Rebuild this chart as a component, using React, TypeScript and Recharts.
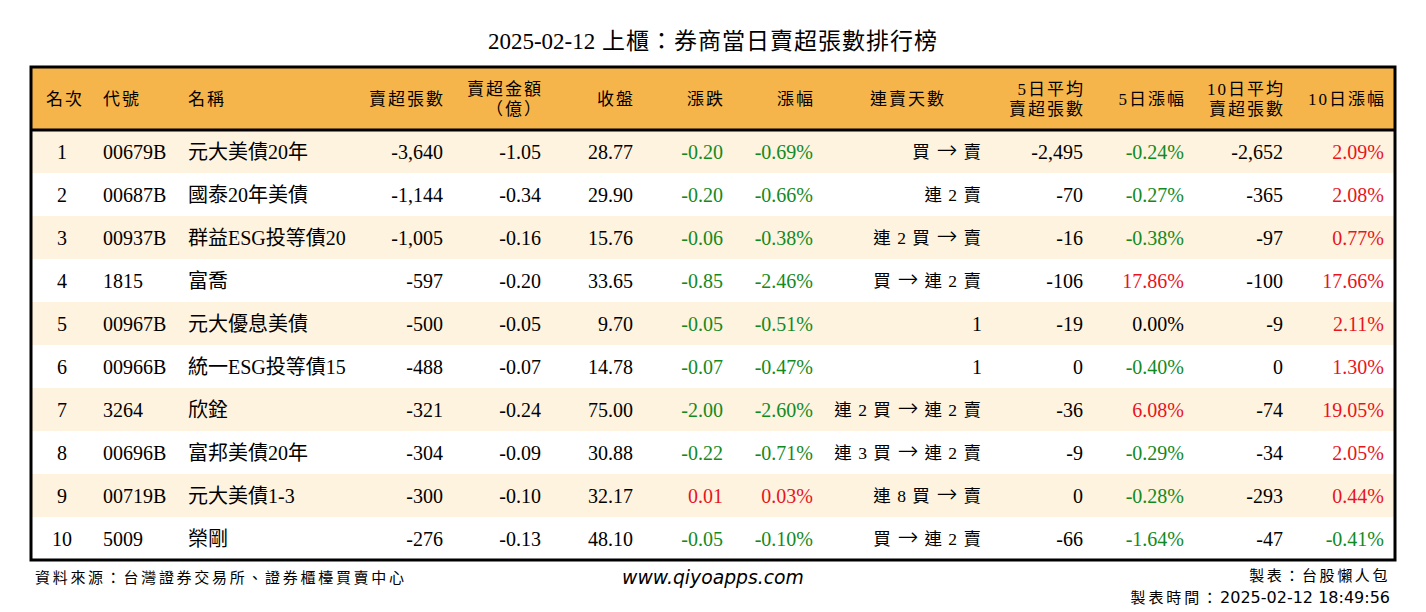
import { ScatterChart, Scatter, XAxis, YAxis, ReferenceArea, ReferenceLine } from "recharts";

const TITLE_DATE = "2025-02-12";
const TITLE_TEXT = "上櫃：券商當日賣超張數排行榜";

const headers = [
  ["名次"],
  ["代號"],
  ["名稱"],
  ["賣超張數"],
  ["賣超金額", "（億）"],
  ["收盤"],
  ["漲跌"],
  ["漲幅"],
  ["連賣天數"],
  ["5日平均", "賣超張數"],
  ["5日漲幅"],
  ["10日平均", "賣超張數"],
  ["10日漲幅"],
];

const ranks = [1, 2, 3, 4, 5, 6, 7, 8, 9, 10];
const codes = ["00679B", "00687B", "00937B", "1815", "00967B", "00966B", "3264", "00696B", "00719B", "5009"];
const names = ["元大美債20年", "國泰20年美債", "群益ESG投等債20", "富喬", "元大優息美債", "統一ESG投等債15", "欣銓", "富邦美債20年", "元大美債1-3", "榮剛"];
const sellVolumes = [-3640, -1144, -1005, -597, -500, -488, -321, -304, -300, -276];
const sellAmounts = [-1.05, -0.34, -0.16, -0.2, -0.05, -0.07, -0.24, -0.09, -0.1, -0.13];
const closes = [28.77, 29.9, 15.76, 33.65, 9.7, 14.78, 75.0, 30.88, 32.17, 48.1];
const changes = [-0.2, -0.2, -0.06, -0.85, -0.05, -0.07, -2.0, -0.22, 0.01, -0.05];
const changePcts = [-0.69, -0.66, -0.38, -2.46, -0.51, -0.47, -2.6, -0.71, 0.03, -0.1];
const streaks = ["買 → 賣", "連 2 賣", "連 2 買 → 賣", "買 → 連 2 賣", "1", "1", "連 2 買 → 連 2 賣", "連 3 買 → 連 2 賣", "連 8 買 → 賣", "買 → 連 2 賣"];
const avg5Volumes = [-2495, -70, -16, -106, -19, 0, -36, -9, 0, -66];
const pct5 = [-0.24, -0.27, -0.38, 17.86, 0.0, -0.4, 6.08, -0.29, -0.28, -1.64];
const avg10Volumes = [-2652, -365, -97, -100, -9, 0, -74, -34, -293, -47];
const pct10 = [2.09, 2.08, 0.77, 17.66, 2.11, 1.3, 19.05, 2.05, 0.44, -0.41];

const WIDTH = 1426;
const HEIGHT = 612;
const TABLE_W = 1364;
const ROW_H = 43;
const HEADER_H = 63;
const HEADER_UNITS = HEADER_H / ROW_H;
const Y_TOP = 0.5 - HEADER_UNITS;

const ORANGE = "#F6B54A";
const CREAM = "#FEF3DF";
const GREEN = "#138A1E";
const RED = "#E8141E";

const SERIF = "'Liberation Serif', 'Noto Sans CJK TC', serif";
const SANS = "'DejaVu Sans', 'Noto Sans CJK TC', sans-serif";

const signColor = (v: number) => (v > 0 ? RED : v < 0 ? GREEN : "#000");
const int = (v: number) => v.toLocaleString("en-US");
const fix = (v: number) => v.toFixed(2);
const pct = (v: number) => v.toFixed(2) + "%";

type Anchor = "start" | "middle" | "end";
// column layout: data anchor, header anchor
const columns: { x: number; anchor: Anchor; hx: number; hanchor: Anchor }[] = [
  { x: 31, anchor: "middle", hx: 34, hanchor: "middle" },
  { x: 72, anchor: "start", hx: 72, hanchor: "start" },
  { x: 157, anchor: "start", hx: 157, hanchor: "start" },
  { x: 412, anchor: "end", hx: 414, hanchor: "end" },
  { x: 510, anchor: "end", hx: 512, hanchor: "end" },
  { x: 602, anchor: "end", hx: 604, hanchor: "end" },
  { x: 692, anchor: "end", hx: 694, hanchor: "end" },
  { x: 782, anchor: "end", hx: 784, hanchor: "end" },
  { x: 951, anchor: "end", hx: 877, hanchor: "middle" },
  { x: 1052, anchor: "end", hx: 1054, hanchor: "end" },
  { x: 1153, anchor: "end", hx: 1155, hanchor: "end" },
  { x: 1252, anchor: "end", hx: 1254, hanchor: "end" },
  { x: 1353, anchor: "end", hx: 1355, hanchor: "end" },
];
const STREAK_COL = 8;

type Cell = { x: number; y: number; text: string; color: string; anchor: Anchor; streak: boolean };

const cells: Cell[] = [];
ranks.forEach((rank, i) => {
  const values: [string, string][] = [
    [String(rank), "#000"],
    [codes[i], "#000"],
    [names[i], "#000"],
    [int(sellVolumes[i]), "#000"],
    [fix(sellAmounts[i]), "#000"],
    [fix(closes[i]), "#000"],
    [fix(changes[i]), signColor(changes[i])],
    [pct(changePcts[i]), signColor(changePcts[i])],
    [streaks[i], "#000"],
    [int(avg5Volumes[i]), "#000"],
    [pct(pct5[i]), signColor(pct5[i])],
    [int(avg10Volumes[i]), "#000"],
    [pct(pct10[i]), signColor(pct10[i])],
  ];
  values.forEach(([text, color], c) => {
    cells.push({
      x: columns[c].x,
      y: rank,
      text,
      color,
      anchor: columns[c].anchor,
      streak: c === STREAK_COL && /\D/.test(text),
    });
  });
});

const headerCells = headers.map((lines, c) => ({
  x: columns[c].hx,
  y: 0.5 - HEADER_UNITS / 2,
  lines,
  anchor: columns[c].hanchor,
}));

function CellText(props: any) {
  const { cx, cy, payload } = props;
  if (payload.streak) {
    const parts = (payload.text as string).split("→");
    return (
      <text
        x={cx}
        y={cy + 6}
        textAnchor={payload.anchor}
        fill={payload.color}
        fontSize={17.5}
        letterSpacing={1}
        fontFamily={SERIF}
      >
        {parts.map((p, k) => (
          <tspan key={k}>
            {k > 0 && (
              <tspan fontFamily="'DejaVu Sans'" fontSize={25} fontWeight={200}>
                →
              </tspan>
            )}
            {p}
          </tspan>
        ))}
      </text>
    );
  }
  return (
    <text
      x={cx}
      y={cy + 7}
      textAnchor={payload.anchor}
      fill={payload.color}
      fontSize={20}
      fontFamily={SERIF}
    >
      {payload.text}
    </text>
  );
}

function HeaderText(props: any) {
  const { cx, cy, payload } = props;
  const lines: string[] = payload.lines;
  const start = lines.length === 1 ? cy + 6 : cy - 4;
  return (
    <text
      x={cx}
      textAnchor={payload.anchor}
      fill="#000"
      fontSize={17}
      letterSpacing={2}
      fontFamily={SERIF}
    >
      {lines.map((l, k) => (
        <tspan key={k} x={cx} y={start + k * 20}>
          {l}
        </tspan>
      ))}
    </text>
  );
}

export default function App() {
  return (
    <div style={{ position: "relative", width: WIDTH, height: HEIGHT, background: "#fff" }}>
      <style>{"body{margin:0}"}</style>
      <div
        style={{
          position: "absolute",
          top: 28,
          left: 0,
          width: WIDTH,
          textAlign: "center",
          fontFamily: SERIF,
          fontSize: 23,
          lineHeight: "28px",
          whiteSpace: "nowrap",
        }}
      >
        {TITLE_DATE}
        <span style={{ letterSpacing: 1 }}> {TITLE_TEXT}</span>
      </div>
      <ScatterChart
        width={WIDTH}
        height={HEIGHT}
        margin={{ top: 67, right: 31, bottom: HEIGHT - 560, left: 31 }}
      >
        <XAxis type="number" dataKey="x" domain={[0, TABLE_W]} hide />
        <YAxis type="number" dataKey="y" domain={[Y_TOP, 10.5]} reversed hide />
        <ReferenceArea x1={0} x2={TABLE_W} y1={Y_TOP} y2={0.5} fill={ORANGE} fillOpacity={1} stroke="none" />
        {ranks
          .filter((r) => r % 2 === 1)
          .map((r) => (
            <ReferenceArea
              key={r}
              x1={0}
              x2={TABLE_W}
              y1={r - 0.5}
              y2={r + 0.5}
              fill={CREAM}
              fillOpacity={1}
              stroke="none"
            />
          ))}
        <ReferenceLine y={0.5} stroke="#000" strokeWidth={3} />
        <ReferenceArea
          x1={0}
          x2={TABLE_W}
          y1={Y_TOP}
          y2={10.5}
          fill="none"
          stroke="#000"
          strokeWidth={3}
        />
        <Scatter data={headerCells} shape={HeaderText} isAnimationActive={false} />
        <Scatter data={cells} shape={CellText} isAnimationActive={false} />
      </ScatterChart>
      <div
        style={{
          position: "absolute",
          top: 566,
          left: 35,
          fontFamily: SANS,
          fontSize: 15,
          letterSpacing: 2.7,
          whiteSpace: "nowrap",
        }}
      >
        資料來源：台灣證券交易所、證券櫃檯買賣中心
      </div>
      <div
        style={{
          position: "absolute",
          top: 567,
          left: 0,
          width: WIDTH,
          textAlign: "center",
          fontFamily: SANS,
          fontStyle: "italic",
          fontSize: 18.8,
        }}
      >
        www.qiyoapps.com
      </div>
      <div
        style={{
          position: "absolute",
          top: 566,
          right: 36,
          textAlign: "right",
          fontFamily: SANS,
          fontSize: 15,
          lineHeight: "21px",
          whiteSpace: "nowrap",
        }}
      >
        <div style={{ letterSpacing: 2.6 }}>製表：台股懶人包</div>
        <div style={{ fontSize: 16 }}>
          <span style={{ letterSpacing: 2.9, fontSize: 15 }}>製表時間：</span>
          2025-02-12 18:49:56
        </div>
      </div>
    </div>
  );
}
